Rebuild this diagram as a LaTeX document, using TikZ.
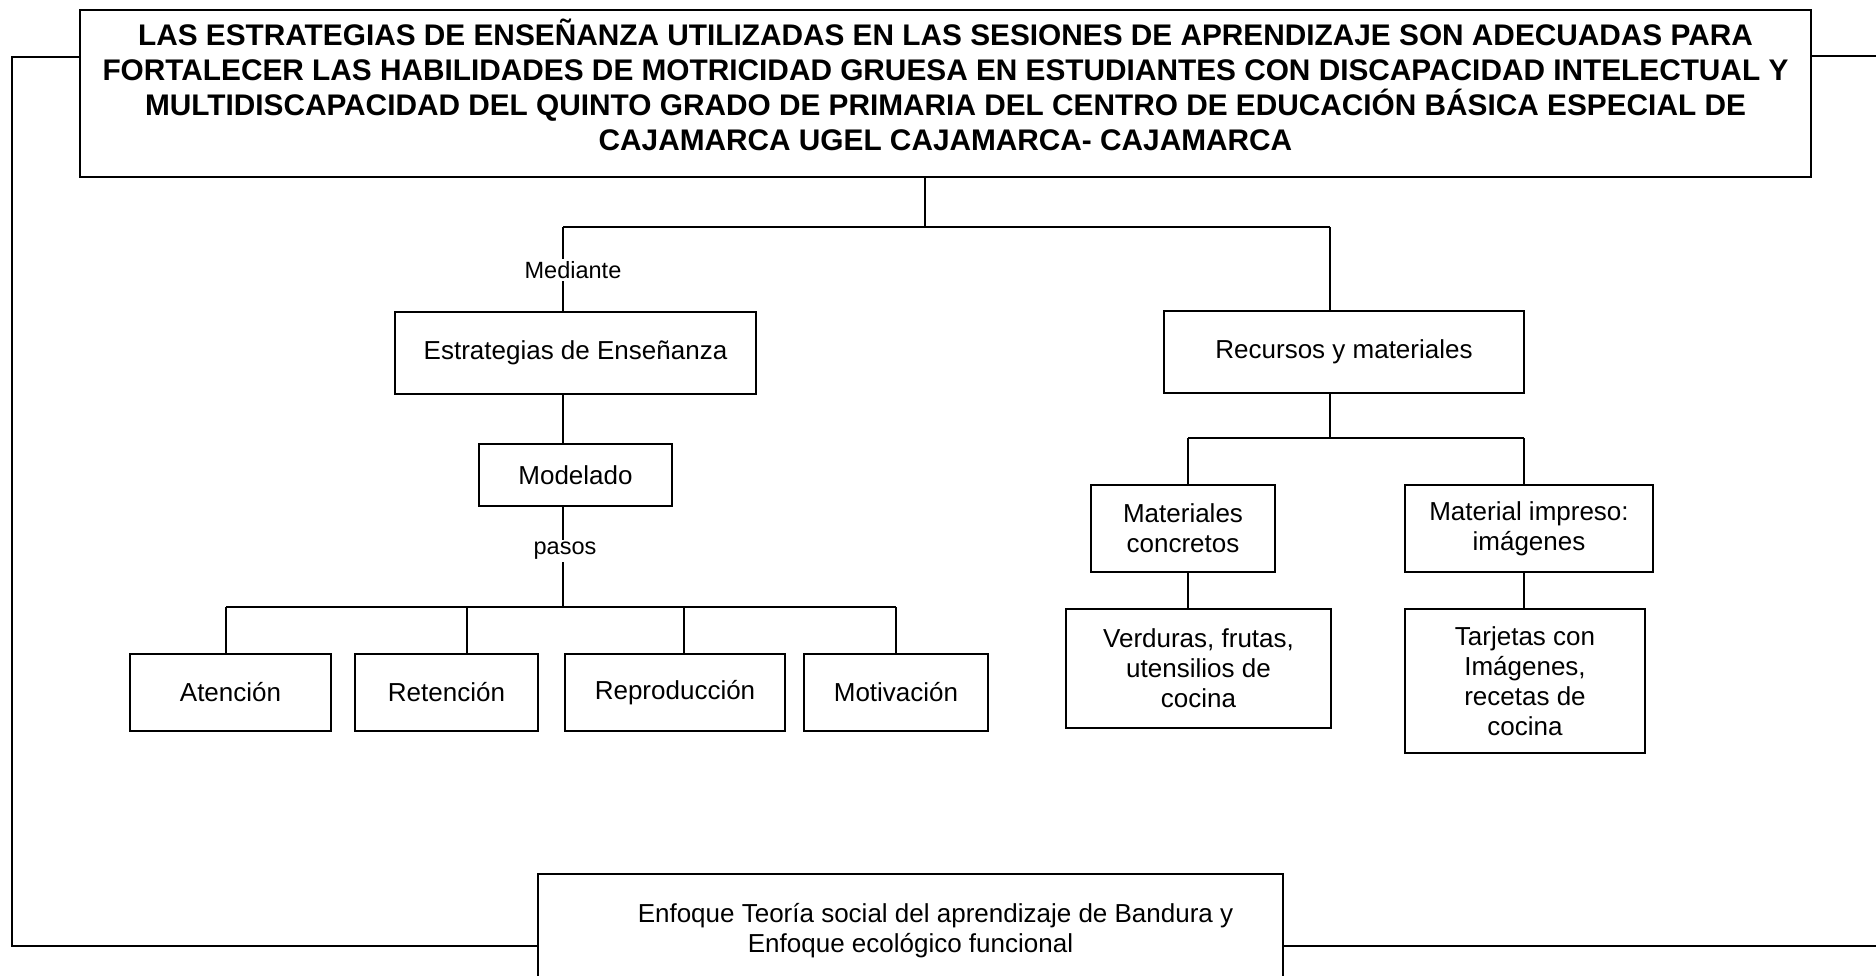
\documentclass[tikz,border=0pt]{standalone}
\usepackage{fontspec}
\setmainfont{Liberation Sans}
\usepackage{tikz}

\begin{document}
\begin{tikzpicture}[x=1pt,y=-1pt,
		box/.style={draw,line width=2.2pt,inner sep=0pt,align=center,font=\fontsize{26}{30}\selectfont},
		lbl/.style={fill=white,inner sep=2pt,font=\fontsize{23.5}{28}\selectfont},
		link/.style={line width=2pt},
		bar/.style={line width=2.8pt}]

		\useasboundingbox (0,0) rectangle (1876,975);

		\node[box,minimum width=1731,minimum height=167,font=\bfseries\fontsize{29.8}{35}\selectfont] (tema) at (945.5,93.5)
			{LAS ESTRATEGIAS DE ENSEÑANZA UTILIZADAS EN LAS SESIONES DE APRENDIZAJE SON ADECUADAS PARA\\
			 FORTALECER LAS HABILIDADES DE MOTRICIDAD GRUESA EN ESTUDIANTES CON DISCAPACIDAD INTELECTUAL Y\\
			 MULTIDISCAPACIDAD DEL QUINTO GRADO DE PRIMARIA DEL CENTRO DE EDUCACIÓN BÁSICA ESPECIAL DE\\
			 CAJAMARCA UGEL CAJAMARCA- CAJAMARCA\\[-17pt]\mbox{}};

		\node[box,minimum width=361,minimum height=82] (estrat) at (575.5,353) {Estrategias de Enseñanza};
		\node[box,minimum width=193,minimum height=62] (model) at (575.5,475) {Modelado};

		\node[box,minimum width=201,minimum height=77] (aten) at (230.5,692.5) {Atención};
		\node[box,minimum width=183,minimum height=77] (reten) at (446.5,692.5) {Retención};
		\node[box,minimum width=220,minimum height=77] (repro) at (675,692.5) {Reproducción};
		\node[box,minimum width=184,minimum height=77] (motiv) at (896,692.5) {Motivación};

		\node[box,minimum width=360,minimum height=82] (recur) at (1344,352) {Recursos y materiales};
		\node[box,minimum width=184,minimum height=87] (matcon) at (1183,528.5) {Materiales\\concretos};
		\node[box,minimum width=248,minimum height=87] (matimp) at (1529,528.5) {Material impreso:\\imágenes};
		\node[box,minimum width=265,minimum height=119] (verd) at (1198.5,668.5) {Verduras, frutas,\\utensilios de\\cocina};
		\node[box,minimum width=240,minimum height=144] (tarj) at (1525,681) {Tarjetas con\\Imágenes,\\recetas de\\cocina};

		\node[box,minimum width=745,minimum height=114] (enfoq) at (910.5,931)
			{\hspace*{50pt}Enfoque Teoría social del aprendizaje de Bandura y\\Enfoque ecológico funcional};

		\coordinate (top) at (925,227);
		\coordinate (topL) at (563,227);
		\coordinate (topR) at (1330,227);
		\coordinate (pasoL) at (226,607);
		\coordinate (pasoR) at (896,607);
		\coordinate (recL) at (1188,438);
		\coordinate (recR) at (1524,438);
		\coordinate (marcoA) at (12,57);
		\coordinate (marcoB) at (12,946);
		\coordinate (marcoC) at (1876,56);
		\coordinate (marcoD) at (1876,946);

		\draw[link] (tema.south -| top) -- (top);
		\draw[bar] (topL) -- (topR);
		\draw[link] (topL) -- (estrat.north -| topL);
		\node[lbl] (mediante) at (573,270) {Mediante};
		\draw[link] (estrat.south -| topL) -- (model.north -| topL);
		\draw[link] (model.south -| topL) -- (topL |- pasoL);
		\node[lbl] (pasos) at (565,551) {pasos};
		\draw[bar] (pasoL) -- (pasoR);
		\draw[link] (pasoL) -- (aten.north -| pasoL);
		\draw[link] (467,607) -- (reten.north -| 467,0);
		\draw[link] (684,607) -- (repro.north -| 684,0);
		\draw[link] (pasoR) -- (motiv.north -| pasoR);

		\draw[link] (topR) -- (recur.north -| topR);
		\draw[link] (recur.south -| topR) -- (topR |- recL);
		\draw[bar] (recL) -- (recR);
		\draw[link] (recL) -- (matcon.north -| recL);
		\draw[link] (recR) -- (matimp.north -| recR);
		\draw[link] (matcon.south -| recL) -- (verd.north -| recL);
		\draw[link] (matimp.south -| recR) -- (tarj.north -| recR);

		\draw[bar] (tema.west |- marcoA) -- (marcoA) -- (marcoB) -- (enfoq.west |- marcoB);
		\draw[bar] (tema.east |- marcoC) -- (marcoC);
		\draw[bar] (enfoq.east |- marcoD) -- (marcoD);

	\end{tikzpicture}
\end{document}
